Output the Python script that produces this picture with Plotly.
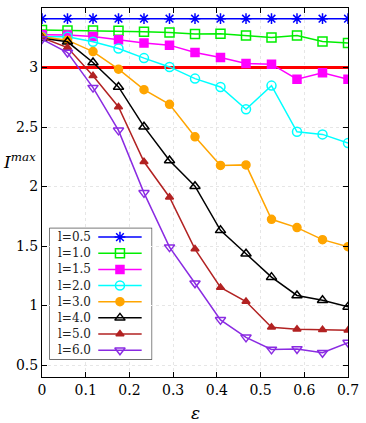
import plotly.graph_objects as go

eps = [0, 0.0583, 0.1167, 0.175, 0.2333, 0.2917, 0.35, 0.4083, 0.4667, 0.525, 0.5833, 0.6417, 0.7]

l05 = [3.41] * 13
l10 = [3.315, 3.311, 3.311, 3.309, 3.300, 3.294, 3.281, 3.283, 3.269, 3.252, 3.269, 3.219, 3.205]
l15 = [3.275, 3.273, 3.261, 3.233, 3.205, 3.188, 3.126, 3.084, 3.033, 3.028, 2.902, 2.955, 2.902]
l20 = [3.258, 3.258, 3.216, 3.160, 3.079, 3.005, 2.907, 2.837, 2.649, 2.848, 2.460, 2.438, 2.365]
l30 = [3.258, 3.230, 3.134, 2.986, 2.814, 2.691, 2.418, 2.177, 2.182, 1.725, 1.655, 1.554, 1.495]
l40 = [3.247, 3.216, 3.042, 2.837, 2.503, 2.219, 2.003, 1.632, 1.436, 1.239, 1.085, 1.045, 0.989]
l50 = [3.250, 3.168, 2.930, 2.669, 2.208, 1.910, 1.475, 1.152, 1.034, 0.818, 0.801, 0.798, 0.792]
l60 = [3.239, 3.126, 2.831, 2.472, 1.947, 1.491, 1.188, 0.880, 0.733, 0.632, 0.636, 0.604, 0.689]

threshold_x = [0, 0.7]
threshold_y = [3.0, 3.0]

x_ticks = [0, 0.1, 0.2, 0.3, 0.4, 0.5, 0.6, 0.7]
x_tick_labels = ["0", "0.1", "0.2", "0.3", "0.4", "0.5", "0.6", "0.7"]
y_ticks = [0.5, 1, 1.5, 2, 2.5, 3, 3.5]
y_tick_labels = ["0.5", "1", "1.5", "2", "2.5", "3", "3.5"]

series = [
    ("l=0.5", l05, "#0000ff", "asterisk-open", 9),
    ("l=1.0", l10, "#00ee00", "square-open", 9),
    ("l=1.5", l15, "#ff00ff", "square", 8),
    ("l=2.0", l20, "#00ffff", "circle-open", 9),
    ("l=3.0", l30, "#ffa500", "circle", 8),
    ("l=4.0", l40, "#000000", "triangle-up-open", 9),
    ("l=5.0", l50, "#b22222", "triangle-up", 7),
    ("l=6.0", l60, "#8a2be2", "triangle-down-open", 9),
]

fig = go.Figure()
fig.add_trace(go.Scatter(x=threshold_x, y=threshold_y, mode="lines",
                         line=dict(color="#ff0000", width=3), showlegend=False))
for name, ys, col, sym, sz in series:
    fig.add_trace(go.Scatter(
        x=eps, y=ys, mode="lines+markers", name=name, showlegend=False,
        line=dict(color=col, width=1.5),
        marker=dict(symbol=sym, size=sz, color=col, line=dict(color=col, width=1.5)),
    ))

# hand-made legend (text left, sample right) on its own small axes
leg_annotations = []
row_h = 16.2
for i, (name, ys, col, sym, sz) in enumerate(series):
    yy = 8.7 + row_h * i
    fig.add_trace(go.Scatter(x=[49, 93], y=[yy, yy], mode="lines", xaxis="x2", yaxis="y2",
                             line=dict(color=col, width=1.5), showlegend=False, hoverinfo="skip"))
    fig.add_trace(go.Scatter(x=[71], y=[yy], mode="markers", xaxis="x2", yaxis="y2",
                             marker=dict(symbol=sym, size=sz, color=col, line=dict(color=col, width=1.5)),
                             showlegend=False, hoverinfo="skip"))
    leg_annotations.append(dict(text=name, xref="x2", yref="y2", x=6.0, y=yy,
                                xanchor="left", yanchor="middle", showarrow=False,
                                font=dict(size=12, family="DejaVu Serif", color="#222")))

font_family = "DejaVu Serif, Liberation Serif, serif"
axis_common = dict(
    showline=True, linecolor="black", linewidth=1, mirror="ticks",
    ticks="inside", ticklen=5, tickcolor="black",
    showgrid=True, gridcolor="#e6e6e6", griddash="dot", gridwidth=1,
    zeroline=False, tickfont=dict(size=14, color="black", family=font_family),
)
hidden_axis = dict(showgrid=False, zeroline=False, showline=False, showticklabels=False,
                   ticks="", fixedrange=True)

fig.update_layout(
    width=366, height=423,
    margin=dict(l=42, r=14, t=7, b=46),
    plot_bgcolor="white", paper_bgcolor="white",
    font=dict(family=font_family, color="black"),
    showlegend=False,
    xaxis=dict(range=[0, 0.7], tickvals=x_ticks, ticktext=x_tick_labels, **axis_common),
    yaxis=dict(range=[0.4, 3.5], tickvals=y_ticks, ticktext=y_tick_labels, **axis_common),
    xaxis2=dict(domain=[0.0258, 0.358], anchor="y2", range=[0, 103], **hidden_axis),
    yaxis2=dict(domain=[0.0486, 0.4027], anchor="x2", range=[131, 0], **hidden_axis),
    shapes=[dict(type="rect", xref="x2 domain", yref="y2 domain", x0=0, x1=1, y0=0, y1=1,
                 fillcolor="white", line=dict(color="#333333", width=1.2), layer="below")],
    annotations=leg_annotations + [
        dict(text="<i>I</i><sup><i>max</i></sup>", xref="paper", yref="paper",
             x=-0.072, y=0.585, xanchor="center", yanchor="middle",
             showarrow=False, font=dict(size=17, family=font_family)),
        dict(text="<i>ε</i>", xref="paper", yref="paper",
             x=0.5, y=-0.098, xanchor="center", yanchor="middle",
             showarrow=False, font=dict(size=17, family=font_family)),
    ],
)

fig.write_html("out.html", config={"displayModeBar": False},
               post_script="document.body.style.margin='0';document.body.style.padding='0';")
